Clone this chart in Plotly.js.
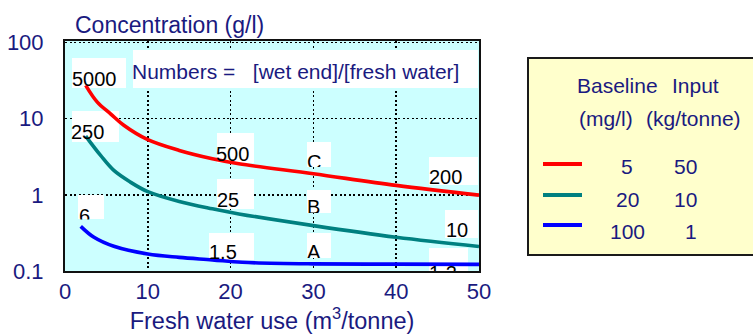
<!DOCTYPE html>
<html><head><meta charset="utf-8">
<script src="https://cdn.plot.ly/plotly-3.0.1.min.js"></script>
<style>html,body{margin:0;padding:0;background:#fff;}#chart{width:753px;height:334px;}</style>
</head><body><div id="chart"></div>
<script>
// ---- data ----
const redX  = [2.5, 3.9, 5.5, 7.1, 10, 13.8, 17.8, 21, 30, 40, 50];
const redY  = [27.4, 16.5, 11.6, 8.2, 5.3, 3.83, 2.98, 2.56, 1.89, 1.33, 0.99];
const tealX = [2.5, 4.3, 5.9, 7.9, 10, 13.8, 17.8, 21, 30, 40, 50];
const tealY = [5.9, 3.29, 2.09, 1.47, 1.10, 0.817, 0.655, 0.562, 0.394, 0.277, 0.21];
const blueX = [1.9, 3.5, 5.9, 10, 13.8, 17.8, 21.4, 30, 40, 50];
const blueY = [0.386, 0.277, 0.211, 0.167, 0.151, 0.140, 0.130, 0.124, 0.123, 0.122];

const baselineMgL = ['5', '20', '100'];
const inputKgT    = ['50', '10', '1'];
const labelTexts  = ['5000', '250', '500', 'C', '200', '25', 'B', '10', '6', '1.5', 'A', '1.2'];
const noteText    = 'Numbers =&nbsp;&nbsp; [wet end]/[fresh water]';
const xTickVals   = [0, 10, 20, 30, 40, 50];

// ---- layout geometry (pixels) ----
const L = 65, R = 479, T = 41, B = 271;
const YMIN = -1, YMAX = 2.02;
const xp = px => (px - L) / (R - L);
const yp = py => (B - py) / (B - T);
const xd = px => (px - L) / (R - L) * 50;                       // pixel -> x data
const yd = py => Math.pow(10, YMIN + (B - py) / (B - T) * (YMAX - YMIN)); // pixel -> y data
const NAVY = '#1a1a80';
const FONT = 'Liberation Sans, Arial, sans-serif';

// label boxes: [x0, y0, x1, y1], glyph left, glyph top, clip bottom
const labelGeom = [
  [72, 58, 126, 88, 73, 72, null],
  [72, 111, 119, 142, 72.5, 125, null],
  [217, 133, 254, 163, 217, 147, 163],
  [307, 142, 331, 167, 308, 155, 167],
  [429, 157, 478, 185, 430, 170, null],
  [217, 179, 254, 209, 218, 193, 209],
  [307, 190, 331, 213, 308, 200, 213],
  [445, 210, 478, 238, 447, 223, null],
  [78, 195, 104, 219, 80, 208.5, 219],
  [209, 233, 254, 260, 210.5, 245, 262],
  [307, 233, 331, 258, 308, 245, 258],
  [429, 248, 468, 271, 430, 266, 271]
];

const shapes = [];
const annotations = [];
const whiteBox = (x0, y0, x1, y1) => shapes.push({type: 'rect', xref: 'x', yref: 'y', layer: 'between',
  x0: xd(x0), x1: xd(x1), y0: yd(y1), y1: yd(y0), fillcolor: '#ffffff', line: {width: 0}});

// white box behind the note
whiteBox(133, 50, 478, 88);
annotations.push({xref: 'paper', yref: 'paper', x: xp(131.5), y: yp(71), xanchor: 'left', yanchor: 'middle',
  text: noteText, showarrow: false, font: {family: FONT, size: 21, color: NAVY}, borderpad: 0, borderwidth: 0});

labelTexts.forEach((t, i) => {
  const g = labelGeom[i];
  whiteBox(g[0], g[1], g[2], g[3]);
  const top = g[5] - 4;
  const a = {xref: 'paper', yref: 'paper', x: xp(g[4] - 1.2), y: yp(top), xanchor: 'left', yanchor: 'top',
    text: t, showarrow: false, align: 'left', valign: 'top', borderpad: 0, borderwidth: 0,
    font: {family: FONT, size: 20, color: '#000000'}};
  if (g[6] !== null) { a.height = g[6] - top; a.width = 60; }
  annotations.push(a);
});

// legend box
shapes.push({type: 'rect', xref: 'paper', yref: 'paper', x0: xp(528), x1: xp(770), y0: yp(255), y1: yp(58),
  fillcolor: '#ffffcc', line: {color: '#1a1a1a', width: 2}});
const legFont = {family: FONT, size: 21, color: NAVY};
const legTxt = (px, py, text, anchor) => annotations.push({xref: 'paper', yref: 'paper', x: xp(px), y: yp(py),
  xanchor: anchor || 'center', yanchor: 'middle', text: text, showarrow: false, font: legFont, borderpad: 0});
legTxt(617.5, 85.5, 'Baseline');
legTxt(695.5, 85.5, 'Input');
legTxt(606, 118.5, '(mg/l)');
legTxt(693.5, 118.5, '(kg/tonne)');
const legColors = ['#ff0000', '#008080', '#0000ff'];
const legLineY = [164, 195, 225];
const legTextY = [166.5, 199, 231];
baselineMgL.forEach((b, i) => {
  shapes.push({type: 'line', xref: 'paper', yref: 'paper', x0: xp(543), x1: xp(582),
    y0: yp(legLineY[i]), y1: yp(legLineY[i]), line: {color: legColors[i], width: 4}});
  legTxt(627, legTextY[i], b);
  legTxt(698, legTextY[i], inputKgT[i], 'right');
});

const lineStyle = (c) => ({color: c, width: 3.6, shape: 'spline', smoothing: 1});
const traces = [
  {x: redX, y: redY, mode: 'lines', line: lineStyle('#ff0000'), hoverinfo: 'skip'},
  {x: tealX, y: tealY, mode: 'lines', line: lineStyle('#008080'), hoverinfo: 'skip'},
  {x: blueX, y: blueY, mode: 'lines', line: lineStyle('#0000ff'), hoverinfo: 'skip'}
];

const layout = {
  width: 753, height: 334,
  margin: {l: L, r: 753 - R, t: T, b: 334 - B, pad: 0},
  paper_bgcolor: '#ffffff', plot_bgcolor: '#ccffff',
  showlegend: false,
  font: {family: FONT, color: NAVY},
  title: {text: 'Concentration (g/l)', x: 75 / 753, xanchor: 'left', xref: 'container',
    y: 1 - 24.5 / 334, yanchor: 'middle', yref: 'container', font: {family: FONT, size: 23, color: NAVY}},
  xaxis: {range: [0, 50], tickvals: xTickVals, showgrid: true, gridcolor: '#000000', gridwidth: 1.5,
    griddash: '2px,2.5px', zeroline: false, showline: true, linecolor: '#111', linewidth: 2, mirror: true,
    ticks: '', ticklabelstandoff: 0, tickfont: {family: FONT, size: 22, color: NAVY},
    title: {text: 'Fresh water use (m<sup>3</sup>/tonne)', standoff: 4, font: {family: FONT, size: 23.5, color: NAVY}}},
  yaxis: {type: 'log', range: [YMIN, YMAX], dtick: 1, showgrid: true, gridcolor: '#000000', gridwidth: 1.5,
    griddash: '2px,2.5px', zeroline: false, showline: true, linecolor: '#111', linewidth: 2, mirror: true,
    ticks: '', ticklabelstandoff: 15, tickfont: {family: FONT, size: 22, color: NAVY}},
  shapes: shapes,
  annotations: annotations
};

Plotly.newPlot('chart', traces, layout, {staticPlot: true, displayModeBar: false});
</script>
</body></html>
